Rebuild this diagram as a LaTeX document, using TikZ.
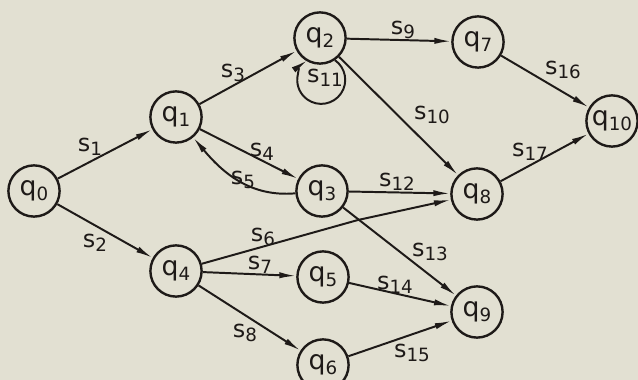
\documentclass[tikz,border=0pt]{standalone}
\usepackage{fontspec}
\setmainfont{DejaVu Sans}
\usepackage{xcolor}
\usetikzlibrary{arrows.meta, positioning}
\definecolor{paper}{RGB}{226,224,210}
\definecolor{ink}{RGB}{30,26,24}
\newcommand{\lsub}[1]{\raisebox{-0.35ex}{\fontsize{13}{13}\selectfont #1}}

\begin{document}
\begin{tikzpicture}[x=0.025cm, y=0.025cm,
    state/.style={draw=ink, circle, line width=1.7pt, minimum size=1.28cm, inner sep=0pt, text=ink, font=\fontsize{19}{21}\selectfont},
    lbl/.style={text=ink, inner sep=0pt, font=\fontsize{17}{19}\selectfont},
    arr/.style={draw=ink, line width=1.4pt, -{Latex[length=12pt, width=4.4pt]}}]
    \fill[paper] (0,0) rectangle (638,380);
    \useasboundingbox (0,0) rectangle (638,380);

    \node[state] (q0) at (34, 189) {q\lsub{0}};
    \node[state] (q1) at (176, 263) {q\lsub{1}};
    \node[state] (q2) at (320, 342) {q\lsub{2}};
    \node[state] (q3) at (322, 189) {q\lsub{3}};
    \node[state] (q4) at (176, 109) {q\lsub{4}};
    \node[state] (q5) at (323, 103) {q\lsub{5}};
    \node[state] (q6) at (323, 15) {q\lsub{6}};
    \node[state] (q7) at (478, 338) {q\lsub{7}};
    \node[state] (q8) at (477, 186) {q\lsub{8}};
    \node[state] (q9) at (477, 68) {q\lsub{9}};
    \node[state] (q10) at (612, 259) {q\lsub{10}};
    \coordinate (c6) at (358, 160);

    \draw[arr] (q0) -- (q1);
    \draw[arr] (q0) -- (q4);
    \draw[arr] (q1) -- (q2);
    \draw[arr] (q1) -- (q3);
    \draw[arr] (q3) to[out=185, in=-50] (q1);
    \draw[arr] (q4) -- (c6) -- (q8);
    \draw[arr] (q4) -- (q5);
    \draw[arr] (q4) -- (q6);
    \draw[arr] (q2) -- (q7);
    \draw[arr] (q2) -- (q8);
    \draw[arr] (q2.-56) arc[start angle=55, end angle=-235, radius=0.6cm];
    \draw[arr] (q3) -- (q8);
    \draw[arr] (q3) -- (q9);
    \draw[arr] (q5) -- (q9);
    \draw[arr] (q6) -- (q9);
    \draw[arr] (q7) -- (q10);
    \draw[arr] (q8) -- (q10);

    \node[lbl] (l1) at (90, 233) {s\lsub{1}};
    \node[lbl] (l2) at (95, 137) {s\lsub{2}};
    \node[lbl] (l3) at (233, 307) {s\lsub{3}};
    \node[lbl] (l4) at (262, 228) {s\lsub{4}};
    \node[lbl] (l5) at (243, 200) {s\lsub{5}};
    \node[lbl] (l6) at (263, 143) {s\lsub{6}};
    \node[lbl] (l7) at (260, 115) {s\lsub{7}};
    \node[lbl] (l8) at (245, 47) {s\lsub{8}};
    \node[lbl] (l9) at (403, 350) {s\lsub{9}};
    \node[lbl] (l10) at (432, 265) {s\lsub{10}};
    \node[lbl] (l11) at (325, 302) {s\lsub{11}};
    \node[lbl] (l12) at (397, 198) {s\lsub{12}};
    \node[lbl] (l13) at (430, 128) {s\lsub{13}};
    \node[lbl] (l14) at (395, 95) {s\lsub{14}};
    \node[lbl] (l15) at (412, 27) {s\lsub{15}};
    \node[lbl] (l16) at (563, 310) {s\lsub{16}};
    \node[lbl] (l17) at (530, 228) {s\lsub{17}};
\end{tikzpicture}
\end{document}
